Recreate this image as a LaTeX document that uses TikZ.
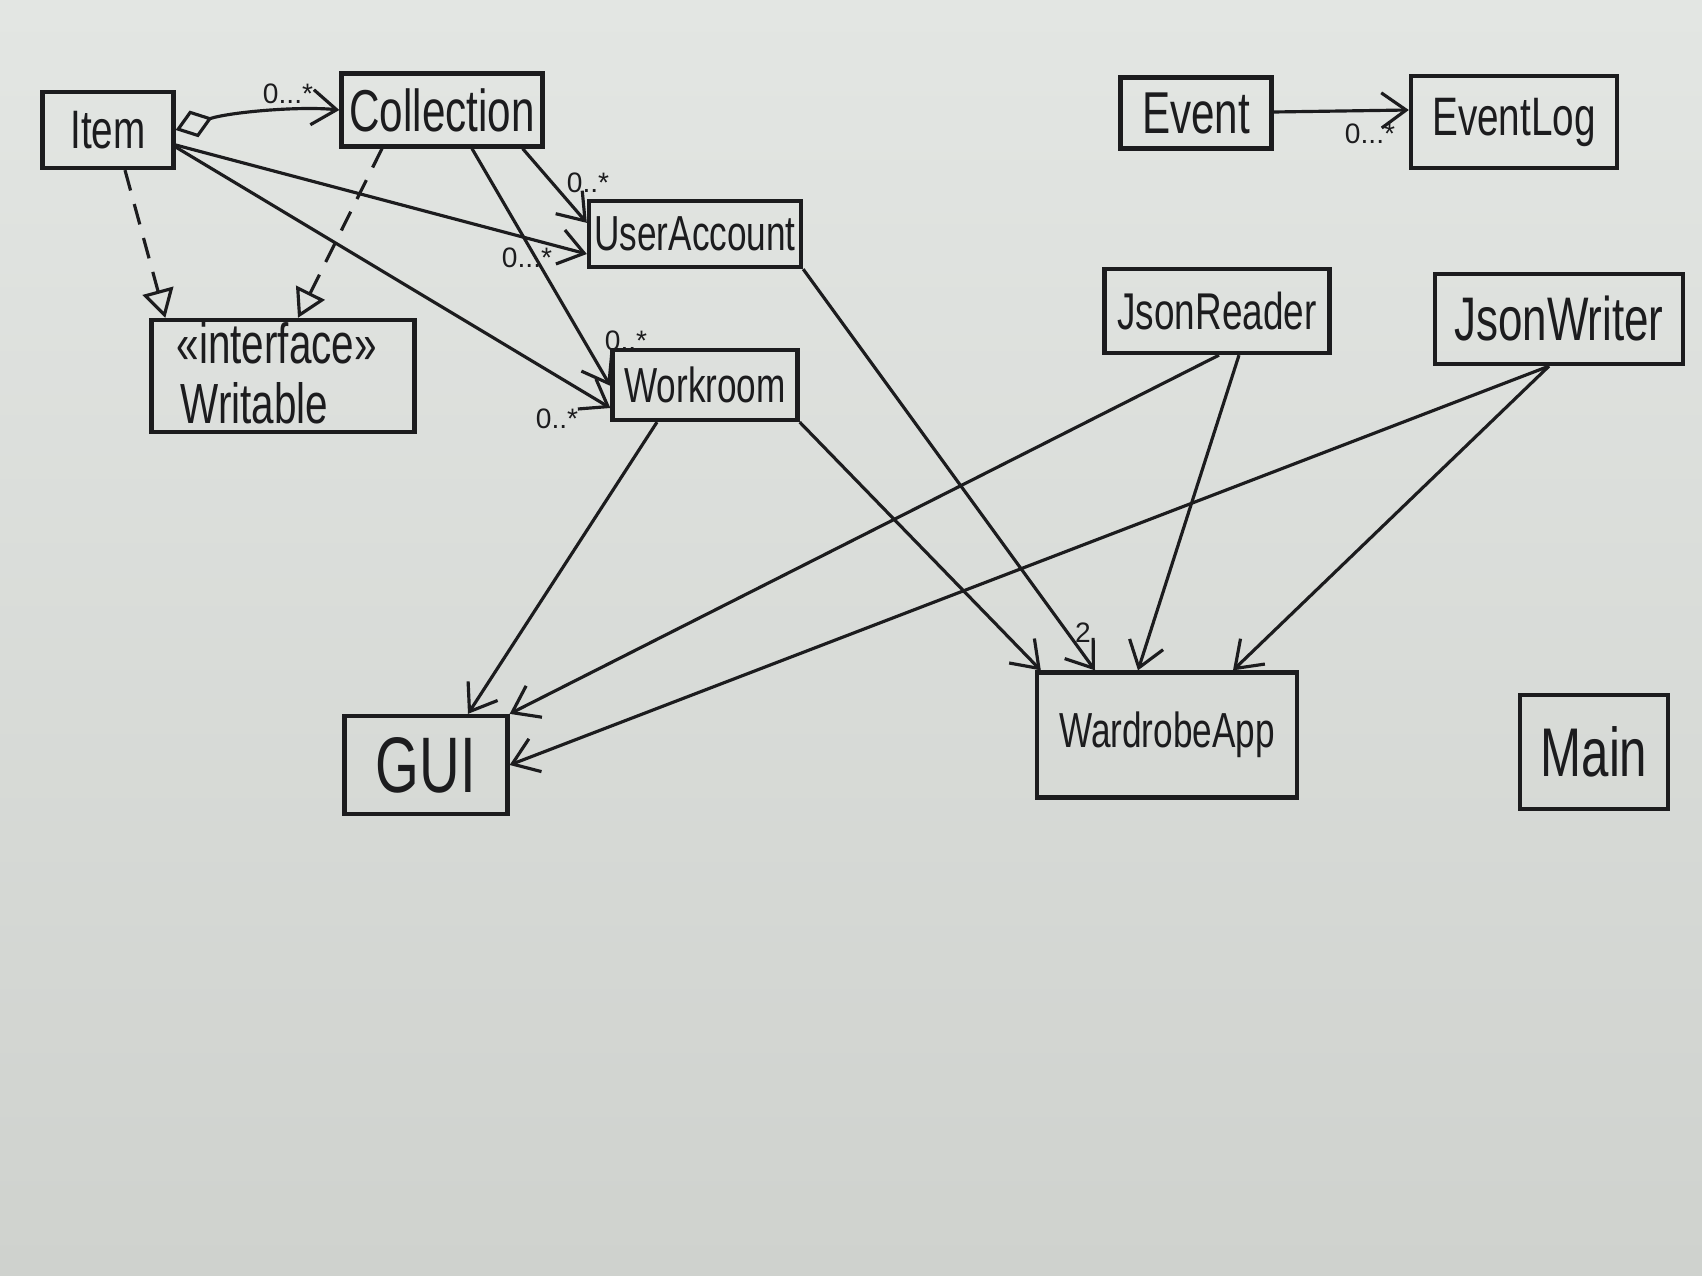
\documentclass[tikz,border=0pt]{standalone}
\usepackage{fontspec}
\setmainfont{Liberation Sans}
\usetikzlibrary{arrows.meta,calc}
\definecolor{paperTop}{RGB}{227,230,227}
\definecolor{paperBot}{RGB}{207,210,206}
\definecolor{ink}{RGB}{28,28,30}
\newcommand{\tall}[1]{\scalebox{1}[1.4]{#1}}
\begin{document}
\begin{tikzpicture}[x=0.01cm,y=-0.01cm,
  box/.style={draw=ink, line width=1.2pt, inner sep=0pt, text=ink},
  txt/.style={text=ink, inner sep=0pt},
  fs/.style={font=\fontsize{#1}{#1}\selectfont},
  assoc/.style={draw=ink, line width=0.9pt, -{Straight Barb[length=7pt,width=10pt]}},
  agg/.style={draw=ink, line width=0.9pt, {Diamond[open,length=11pt,width=8pt]}-{Straight Barb[length=7pt,width=10pt]}},
  real/.style={draw=ink, line width=0.9pt, dash pattern=on 6pt off 4pt, -{Triangle[open,length=8pt,width=9pt]}},
  mult/.style={text=ink, inner sep=0pt, font=\fontsize{8}{8}\selectfont}
]
\useasboundingbox (0,0) rectangle (1702,1276);
\shade[top color=paperTop,bottom color=paperBot] (0,0) rectangle (1702,1276);

% classes
\node[box, minimum width=1.31cm, minimum height=0.76cm, fs=11] (item) at (108,130) {\tall{Item}};
\node[box, minimum width=2.01cm, minimum height=0.73cm, fs=12] (coll) at (442,110) {\tall{Collection}};
\node[box, minimum width=2.63cm, minimum height=1.12cm] (writ) at (283,376) {};
\node[txt, fs=11.5, anchor=west] (wst) at (176,343) {\tall{«interface»}};
\node[txt, fs=11.5, anchor=west] (wnm) at (180,403) {\tall{Writable}};
\node[box, minimum width=2.12cm, minimum height=0.66cm, fs=10] (ua) at (695,234) {\tall{UserAccount}};
\node[box, minimum width=1.85cm, minimum height=0.70cm, fs=10] (wr) at (705,385) {\tall{Workroom}};
\node[box, minimum width=1.51cm, minimum height=0.71cm, fs=12] (ev) at (1196,113) {\tall{Event}};
\node[box, minimum width=2.06cm, minimum height=0.92cm, fs=11] (el) at (1514,122) {\tall{EventLog}};
\node[box, minimum width=2.25cm, minimum height=0.84cm, fs=10.5] (jr) at (1217,311) {\tall{JsonReader}};
\node[box, minimum width=2.48cm, minimum height=0.90cm, fs=12.5] (jw) at (1559,319) {\tall{JsonWriter}};
\node[box, minimum width=1.63cm, minimum height=0.98cm, fs=16] (gui) at (426,765) {\tall{GUI}};
\node[box, minimum width=2.60cm, minimum height=1.25cm, fs=10] (app) at (1167,735) {\tall{WardrobeApp}};
\node[box, minimum width=1.48cm, minimum height=1.14cm, fs=14] (main) at (1594,752) {\tall{Main}};

% connectors
\draw[agg] (item.east) .. controls (230,112) and (300,106) .. (coll.west);
\draw[real] ($(item.south)+(17,0)$) -- ($(writ.north west)+(16,0)$);
\draw[real] ($(coll.south)+(-60,0)$) -- ($(writ.north)+(15,0)$);
\draw[assoc] ($(item.east)+(0,15)$) -- ($(ua.west)+(0,20)$);
\draw[assoc] ($(coll.south east)+(-22,0)$) -- ($(ua.north west)+(0,24)$);
\draw[assoc] ($(coll.south)+(30,0)$) -- ($(wr.north west)+(0,38)$);
\draw[assoc] ($(item.east)+(0,17)$) -- ($(wr.west)+(0,23)$);
\draw[assoc] (ua.south east) -- ($(app.north)+(-72,0)$);
\draw[assoc] (wr.south east) -- ($(app.north west)+(6,0)$);
\draw[assoc] ($(wr.south)+(-48,0)$) -- ($(gui.north)+(42,0)$);
\draw[assoc] ($(jr.south)+(2,0)$) -- (gui.north east);
\draw[assoc] ($(jr.south)+(22,0)$) -- ($(app.north)+(-29,0)$);
\draw[assoc] ($(jw.south)+(-10,0)$) -- (gui.east);
\draw[assoc] ($(jw.south)+(-10,0)$) -- ($(app.north)+(66,0)$);
\draw[assoc] ($(ev.east)+(0,-1)$) -- ($(el.west)+(0,-12)$);

% multiplicities
\node[mult] (m1) at (288,94) {0...*};
\node[mult] (m2) at (588,183) {0..*};
\node[mult] (m3) at (527,258) {0...*};
\node[mult] (m4) at (626,341) {0..*};
\node[mult] (m5) at (557,419) {0..*};
\node[mult] (m6) at (1370,134) {0...*};
\node[mult] (m7) at (1083,633) {2};
\end{tikzpicture}
\end{document}
